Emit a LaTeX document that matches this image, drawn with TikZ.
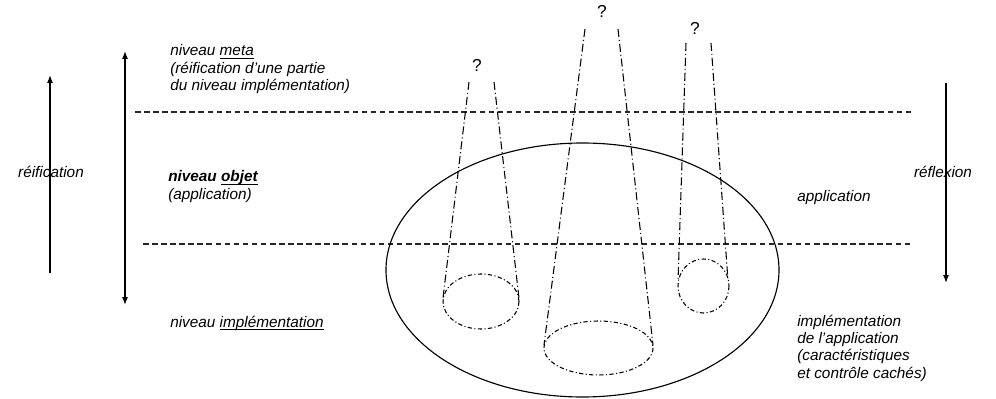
\documentclass[tikz,border=0pt]{standalone}
\usepackage{fontspec}
\setmainfont{Liberation Sans}
\usetikzlibrary{arrows.meta}

% underline with a fixed offset below the baseline
\newcommand\undl[1]{\setbox0\hbox{#1}\rlap{\rule[-1.9pt]{\wd0}{0.6pt}}\box0}

\begin{document}
\begin{tikzpicture}[x=0.75pt,y=-0.75pt,
  lbl/.style={inner sep=0pt,font=\fontsize{11.5}{13.1}\selectfont\itshape},
  qmark/.style={inner sep=0pt,font=\fontsize{13}{15}\selectfont},
  levelline/.style={black!85,line width=0.85pt,dash pattern=on 4.2pt off 2.6pt},
  conebeam/.style={line width=0.8pt,dash pattern=on 6pt off 2.2pt on 0.8pt off 2.2pt},
  conebase/.style={line width=0.8pt,dash pattern=on 3.2pt off 1.8pt on 0.8pt off 1.8pt},
  flow/.style={line width=0.95pt,-{Latex[length=6pt,width=4.5pt]}},
  flowboth/.style={line width=0.95pt,{Latex[length=6pt,width=4.5pt]}-{Latex[length=6pt,width=4.5pt]}}]

\useasboundingbox (0,0) rectangle (996,399);

% level separators
\draw[levelline] (135,112) -- (912,112);
\draw[levelline] (143,244) -- (912,244);

% the application
\draw[line width=0.85pt] (582.5,270) ellipse [x radius=196.5, y radius=127];

% side arrows
\coordinate (reifBot) at (50,273);
\coordinate (reifTop) at (50,75);
\draw[flow] (reifBot) -- (reifTop);
\coordinate (levTop) at (125,51);
\coordinate (levBot) at (125,305);
\draw[flowboth] (levTop) -- (levBot);
\coordinate (reflTop) at (946,83);
\coordinate (reflBot) at (946,283);
\draw[flow] (reflTop) -- (reflBot);

% cone 1
\node[qmark] (q1) at (477,65) {?};
\coordinate (c1lt) at (469,82);
\coordinate (c1rt) at (494,82);
\coordinate (c1lb) at (443,298);
\coordinate (c1rb) at (519,298);
\draw[conebeam] (c1lt) -- (c1lb);
\draw[conebeam] (c1rt) -- (c1rb);
\draw[conebase] (481,301.5) ellipse [x radius=38, y radius=27.5];

% cone 2
\node[qmark] (q2) at (602,11) {?};
\coordinate (c2lt) at (585,29);
\coordinate (c2rt) at (618,29);
\coordinate (c2lb) at (544,345);
\coordinate (c2rb) at (653,345);
\draw[conebeam] (c2lt) -- (c2lb);
\draw[conebeam] (c2rt) -- (c2rb);
\draw[conebase] (598.5,348) ellipse [x radius=54.5, y radius=27];

% cone 3
\node[qmark] (q3) at (695,28) {?};
\coordinate (c3lt) at (686,43);
\coordinate (c3rt) at (711,43);
\coordinate (c3lb) at (678,281);
\coordinate (c3rb) at (728,281);
\draw[conebeam] (c3lt) -- (c3lb);
\draw[conebeam] (c3rt) -- (c3rb);
\draw[conebase] (703.5,286) ellipse [x radius=25.5, y radius=27];

% level labels
\node[lbl,anchor=base west] (meta) at (170,56)
  {\begin{tabular}[t]{@{}l@{}}niveau \undl{meta}\\(réification d’une partie\\du niveau implémentation)\end{tabular}};
\node[lbl,anchor=base west] (objet) at (168,182)
  {\begin{tabular}[t]{@{}l@{}}\bfseries niveau \undl{objet}\\(application)\end{tabular}};
\node[lbl,anchor=base west] (impl) at (170,327) {niveau \undl{implémentation}};

% right-hand labels
\node[lbl,anchor=base west] (app) at (797,201) {application};
\node[lbl,anchor=base west] (appimpl) at (797,326)
  {\begin{tabular}[t]{@{}l@{}}implémentation\\de l’application\\(caractéristiques\\et contrôle cachés)\end{tabular}};

% arrow labels
\node[lbl,anchor=base] (reif) at (51,178) {réification};
\node[lbl,anchor=base] (refl) at (943,178) {réflexion};
\end{tikzpicture}
\end{document}
